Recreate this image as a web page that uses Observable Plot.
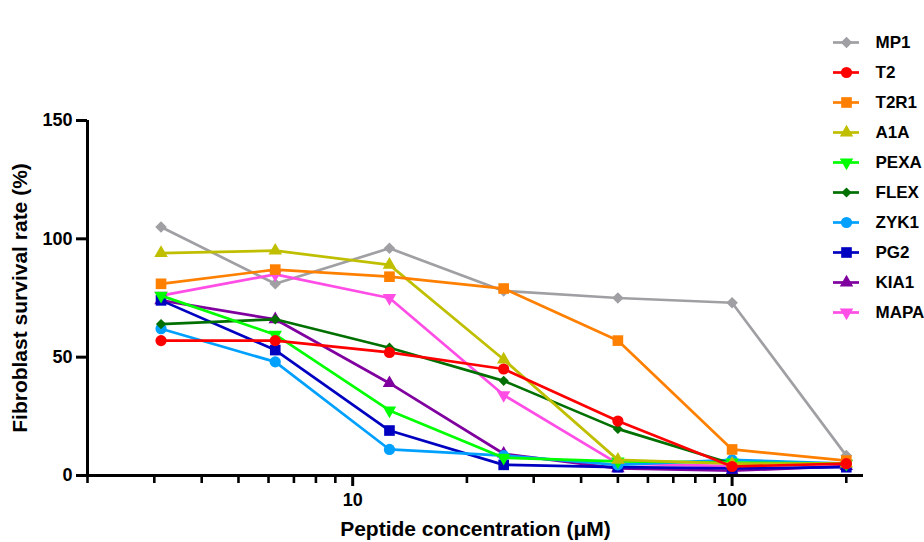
<!DOCTYPE html>
<html>
<head>
<meta charset="utf-8">
<script src="https://cdn.jsdelivr.net/npm/d3@7"></script>
<script src="https://cdn.jsdelivr.net/npm/@observablehq/plot@0.6"></script>
<style>
  html, body { margin: 0; padding: 0; background: #fff; }
  #wrap { position: relative; width: 924px; height: 542px; }
  #legend { position: absolute; left: 820px; top: 0px; }
</style>
</head>
<body>
<div id="wrap"><div id="chart"></div><div id="legend"></div></div>
<script>
// ---- data ----
const concentrations = [3.125, 6.25, 12.5, 25, 50, 100, 200];
const seriesNames = ["MP1", "T2", "T2R1", "A1A", "PEXA", "FLEX", "ZYK1", "PG2", "KIA1", "MAPA"];
const MP1  = [105, 81, 96, 78, 75, 73, 8.4];
const T2   = [57, 57, 52, 45, 23, 3.8, 5];
const T2R1 = [81, 87, 84, 79, 57, 11, 6.3];
const A1A  = [94, 95, 89, 49, 6.6, 5, 5];
const PEXA = [76, 59.5, 27.5, 7.5, 6, 5.5, 5];
const FLEX = [64, 66, 54, 40, 19.7, 5, 5];
const ZYK1 = [62, 48, 11, 8.4, 4.5, 6.6, 5];
const PG2  = [74, 53, 19, 4.5, 3.5, 3, 3.5];
const KIA1 = [74, 66, 39, 9.2, 3, 2, 4];
const MAPA = [76, 85, 75, 34, 5, 4, 5];
const xMinorTicks = [2, 3, 4, 5, 6, 7, 8, 9, 20, 30, 40, 50, 60, 70, 80, 90, 200];
const xMajorTicks = [10, 100];
const yTicks = [0, 50, 100, 150];
const xTitle = "Peptide concentration (μM)";
const yTitle = "Fibroblast survival rate (%)";

const triangleDown = {
  draw(ctx, size) {
    const y = -Math.sqrt(size / (Math.sqrt(3) * 3));
    ctx.moveTo(0, -y * 2);
    ctx.lineTo(-Math.sqrt(3) * y, y);
    ctx.lineTo(Math.sqrt(3) * y, y);
    ctx.closePath();
  }
};

const styles = {
  MP1:  {values: MP1,  color: "#a0a0a4", symbol: "diamond2", r: 5.2},
  T2:   {values: T2,   color: "#ff0000", symbol: "circle", r: 5.6},
  T2R1: {values: T2R1, color: "#ff8000", symbol: "square", r: 6.0},
  A1A:  {values: A1A,  color: "#bfbf00", symbol: "triangle", r: 5.0},
  PEXA: {values: PEXA, color: "#00ff00", symbol: triangleDown, r: 5.0},
  FLEX: {values: FLEX, color: "#007000", symbol: "diamond2", r: 4.6},
  ZYK1: {values: ZYK1, color: "#00a0ff", symbol: "circle", r: 5.6},
  PG2:  {values: PG2,  color: "#0000c0", symbol: "square", r: 6.0},
  KIA1: {values: KIA1, color: "#80009f", symbol: "triangle", r: 5.0},
  MAPA: {values: MAPA, color: "#ff4de6", symbol: triangleDown, r: 5.0}
};

// drawing order bottom -> top
const drawOrder = ["MP1", "MAPA", "KIA1", "PG2", "ZYK1", "FLEX", "PEXA", "A1A", "T2R1", "T2"];

const font = "'Liberation Sans', Arial, sans-serif";
const seriesMarks = [];
for (const name of drawOrder) {
  const s = styles[name];
  const rows = concentrations.map((c, i) => ({x: c, y: s.values[i]}));
  seriesMarks.push(Plot.line(rows, {x: "x", y: "y", stroke: s.color, strokeWidth: 2.7}));
  seriesMarks.push(Plot.dot(rows, {x: "x", y: "y", fill: s.color, stroke: "none", symbol: s.symbol, r: s.r}));
}

const chart = Plot.plot({
  width: 924,
  height: 542,
  marginLeft: 87,
  marginRight: 61,
  marginTop: 120,
  marginBottom: 67,
  style: {fontFamily: font, background: "#fff", color: "#000"},
  x: {type: "log", domain: [2, 222]},
  y: {domain: [0, 150]},
  marks: [
    ...seriesMarks,
    Plot.axisX(xMinorTicks, {tickSize: 8, strokeWidth: 2.6, tickFormat: () => "", label: null}),
    Plot.axisX(xMajorTicks, {tickSize: 11, strokeWidth: 3, tickPadding: 7, tickFormat: d3.format("d"), fontSize: 18, fontWeight: "bold", label: null, fill: "#000"}),
    Plot.axisY(yTicks, {tickSize: 11, strokeWidth: 3, tickPadding: 4, fontSize: 18, fontWeight: "bold", label: null, fill: "#000"}),
    Plot.ruleY([0], {strokeWidth: 3, stroke: "#000"}),
    Plot.ruleX([2], {strokeWidth: 3, stroke: "#000"}),
    Plot.text([xTitle], {frameAnchor: "bottom", dy: 60, fontSize: 21, fontWeight: "bold", fill: "#000"}),
    Plot.text([yTitle], {x: 2, y: 75, dx: -67, rotate: -90, fontSize: 21, fontWeight: "bold", fill: "#000"})
  ]
});
document.getElementById("chart").appendChild(chart);

// legend built with Plot
const legendRows = seriesNames.map(n => ({name: n}));
const legendMarks = [];
for (const n of seriesNames) {
  const s = styles[n];
  const row = [{name: n}];
  legendMarks.push(Plot.ruleY(row, {y: "name", x1: 13, x2: 39, stroke: s.color, strokeWidth: 2.7}));
  legendMarks.push(Plot.dot(row, {y: "name", x: 26, fill: s.color, stroke: "none", symbol: s.symbol, r: s.r}));
}
legendMarks.push(Plot.text(legendRows, {y: "name", x: 55, text: "name", textAnchor: "start", fontSize: 17, fontWeight: "bold", fill: "#000"}));
const legend = Plot.plot({
  width: 104,
  height: 354,
  margin: 0,
  style: {fontFamily: font, background: "transparent", overflow: "visible"},
  x: {domain: [0, 104], range: [0, 104], axis: null},
  y: {type: "point", domain: seriesNames, range: [24, 330], axis: null},
  marks: legendMarks
});
document.getElementById("legend").appendChild(legend);
</script>
</body>
</html>
